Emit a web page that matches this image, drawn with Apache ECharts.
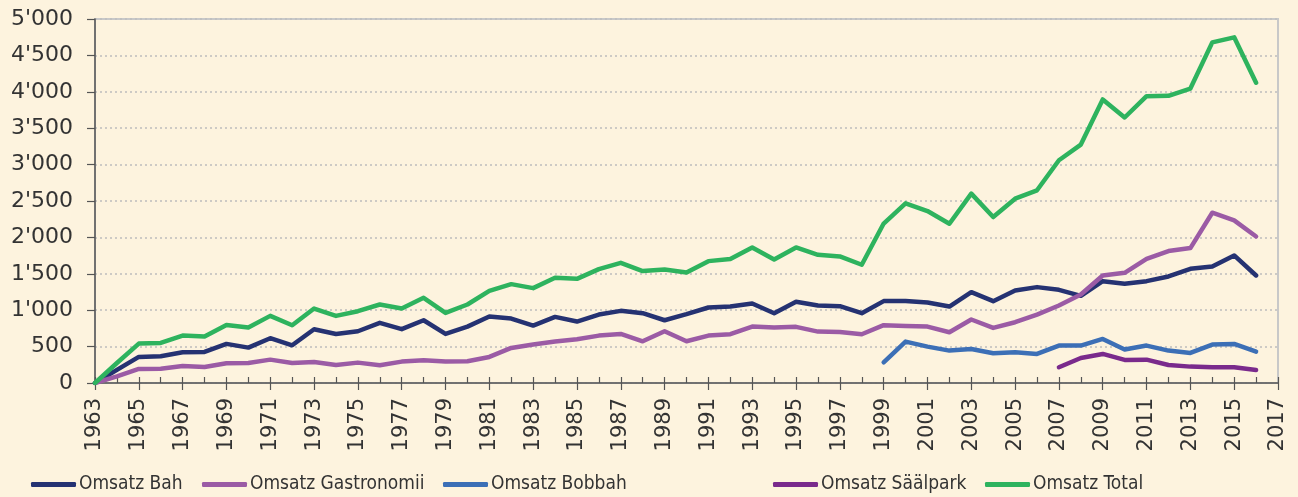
<!DOCTYPE html>
<html>
<head>
<meta charset="utf-8">
<script src="https://cdn.jsdelivr.net/npm/echarts@6/dist/echarts.min.js"></script>
<style>
html,body{margin:0;padding:0;background:#FDF3DE;}
#c{width:1298px;height:497px;}
</style>
</head>
<body>
<div id="c"></div>
<script>
// Years on the category axis (axis runs to 2017, data to 2016)
const years = [];
for (let y = 1963; y <= 2017; y++) years.push(String(y));

const seriesNames = ['Omsatz Bah', 'Omsatz Gastronomii', 'Omsatz Bobbah', 'Omsatz Säälpark', 'Omsatz Total'];

// 1963 .. 2016
const bah = [0,180,358,367,422,427,537,486,615,518,739,674,711,826,739,862,674,775,913,885,
  789,908,844,940,991,959,862,945,1037,1050,1092,959,1115,1064,1055,959,1125,1125,1105,1050,
  1248,1124,1271,1317,1280,1197,1399,1362,1399,1463,1569,1601,1752,1477];
const gastronomii = [0,92,193,197,234,220,271,275,321,275,289,248,280,243,294,312,294,298,358,482,
  530,569,601,651,674,573,711,573,651,670,775,761,771,706,702,670,794,784,775,697,
  872,757,835,940,1064,1216,1477,1514,1706,1812,1853,2339,2234,2013];
const bobbah = [null,null,null,null,null,null,null,null,null,null,null,null,null,null,null,null,null,null,null,null,
  null,null,null,null,null,null,null,null,null,null,null,null,null,null,null,null,284,569,500,445,
  468,408,422,399,514,514,605,459,514,445,413,528,537,431];
const saalpark = [null,null,null,null,null,null,null,null,null,null,null,null,null,null,null,null,null,null,null,null,
  null,null,null,null,null,null,null,null,null,null,null,null,null,null,null,null,null,null,null,null,
  null,null,null,null,216,344,399,317,321,248,225,216,216,179];
const total = [0,275,541,550,651,638,798,761,922,794,1023,922,986,1078,1023,1170,963,1078,1266,1358,
  1303,1445,1431,1564,1651,1537,1560,1518,1674,1702,1862,1697,1862,1761,1739,1624,2190,2468,2362,2188,
  2601,2280,2532,2647,3060,3275,3895,3647,3940,3945,4045,4679,4748,4124];

const colors = ['#253272', '#9B5BA5', '#3C6FB6', '#7A2A8C', '#2EB35E'];
const values = [bah, gastronomii, bobbah, saalpark, total];
const legendLeft = [31, 202, 443, 773, 985];

const axisFont = "'DejaVu Sans', sans-serif";
const legendFont = "'DejaVu Sans Condensed', 'Liberation Sans Narrow', sans-serif";

const chart = echarts.init(document.getElementById('c'), null, {renderer: 'canvas'});
chart.setOption({
  backgroundColor: '#FDF3DE',
  animation: false,
  color: colors,
  grid: {
    left: 95, right: 20, top: 19, bottom: 114,
    show: true, borderColor: '#c8c8c8', borderWidth: 2, backgroundColor: 'transparent'
  },
  legend: seriesNames.map((n, i) => ({
    data: [n],
    left: legendLeft[i],
    top: 475,
    icon: 'roundRect',
    itemWidth: 45,
    itemHeight: 5,
    padding: 0,
    textStyle: {fontFamily: legendFont, fontSize: 19, color: '#333', padding: [0,0,0,-2]}
  })),
  xAxis: [{
    type: 'category',
    data: years,
    boundaryGap: false,
    axisLine: {lineStyle: {color: '#555', width: 1.5}},
    axisTick: {interval: 0, inside: true, length: 6, lineStyle: {color: '#555', width: 1.2}},
    axisLabel: {interval: 1, rotate: 90, margin: 15, fontFamily: axisFont, fontSize: 21, color: '#333'},
    splitLine: {show: false}
  }, {
    type: 'category',
    data: years,
    boundaryGap: false,
    position: 'bottom',
    axisLine: {show: false},
    axisTick: {interval: 1, inside: false, length: 7, lineStyle: {color: '#555', width: 1.2}},
    axisLabel: {show: false},
    splitLine: {show: false}
  }],
  yAxis: {
    type: 'value',
    min: 0, max: 5000, interval: 500,
    axisLine: {show: true, lineStyle: {color: '#555', width: 1.5}},
    axisTick: {show: true, length: 8, lineStyle: {color: '#555', width: 1.2}},
    axisLabel: {
      margin: 22, fontFamily: axisFont, fontSize: 22, color: '#333',
      formatter: v => String(v).replace(/\B(?=(\d{3})+(?!\d))/g, "'")
    },
    splitLine: {show: true, lineStyle: {color: '#bdbdbd', width: 1.5, type: [2, 3]}}
  },
  series: seriesNames.map((n, i) => ({
    name: n,
    type: 'line',
    xAxisIndex: 0,
    data: values[i],
    symbol: 'none',
    connectNulls: false,
    lineStyle: {width: 4.5, color: colors[i], cap: 'round', join: 'round'},
    itemStyle: {color: colors[i]}
  }))
});
</script>
</body>
</html>
